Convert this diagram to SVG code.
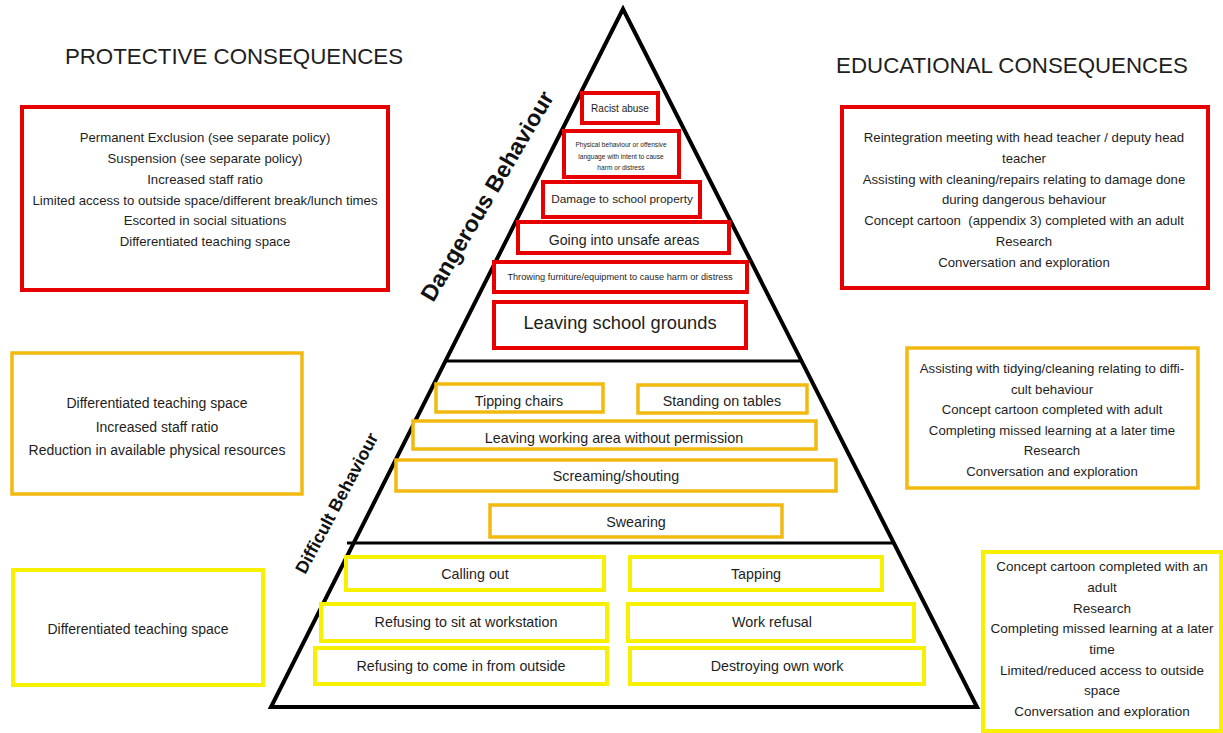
<svg xmlns="http://www.w3.org/2000/svg" width="1223" height="733" viewBox="0 0 1223 733">
  <style>
    text { font-family: "Liberation Sans", Arial, sans-serif; fill: #1e1e1e; text-anchor: middle; dominant-baseline: central; }
    .title { font-size: 22.3px; dominant-baseline: alphabetic; }
    .band { font-size: 23px; font-weight: bold; dominant-baseline: alphabetic; fill: #111; }
    .red { fill: #fff; stroke: #e60000; stroke-width: 4; }
    .gold { fill: #fff; stroke: #f2b90f; stroke-width: 3.5; }
    .yel { fill: #fff; stroke: #f7f000; stroke-width: 4; }
    .side { font-size: 13.2px; }
    .pyr { fill: none; stroke: #000; stroke-width: 4; stroke-linejoin: miter; }
    .div { stroke: #000; stroke-width: 3; }
    .t14 { font-size: 14.3px; }
  </style>

  <!-- headings -->
  <text class="title" x="234" y="64">PROTECTIVE CONSEQUENCES</text>
  <text class="title" x="1012" y="73">EDUCATIONAL CONSEQUENCES</text>

  <!-- pyramid outline and tier dividers -->
  <g id="pyramid">
    <polygon class="pyr" points="623,9 271,707 977,707"/>
    <line class="div" x1="446" y1="361" x2="802" y2="361"/>
    <line class="div" x1="347" y1="543" x2="894" y2="543"/>
  </g>

  <!-- tier labels along the left edge -->
  <text class="band" transform="translate(494 200) rotate(-59.5)">Dangerous Behaviour</text>
  <text class="band" style="font-size:17.6px" transform="translate(342 506) rotate(-62)">Difficult Behaviour</text>

  <!-- dangerous behaviour tier -->
  <g id="racist-abuse">
    <rect class="red" x="582" y="93" width="76" height="30"/>
    <text x="620" y="108" style="font-size:10px">Racist abuse</text>
  </g>
  <g id="physical-behaviour">
    <rect class="red" x="564" y="131" width="115" height="46"/>
    <text x="621" y="144" style="font-size:6.6px">Physical behaviour or offensive</text>
    <text x="621" y="156" style="font-size:6.6px">language with intent to cause</text>
    <text x="621" y="167" style="font-size:6.6px">harm or distress</text>
  </g>
  <g id="damage-property">
    <rect class="red" x="543" y="182" width="157" height="35"/>
    <text x="622" y="199" style="font-size:11.8px">Damage to school property</text>
  </g>
  <g id="unsafe-areas">
    <rect class="red" x="518" y="222" width="211" height="31"/>
    <text x="624" y="240" style="font-size:14.2px">Going into unsafe areas</text>
  </g>
  <g id="throwing-furniture">
    <rect class="red" x="494" y="262" width="253" height="30"/>
    <text x="620" y="277" style="font-size:9.2px">Throwing furniture/equipment to cause harm or distress</text>
  </g>
  <g id="leaving-grounds">
    <rect class="red" x="494" y="302" width="252" height="46"/>
    <text x="620" y="322" style="font-size:18.3px">Leaving school grounds</text>
  </g>

  <!-- difficult behaviour tier -->
  <g id="tipping-chairs">
    <rect class="gold" x="436" y="384" width="167" height="28"/>
    <text class="t14" x="519" y="401">Tipping chairs</text>
  </g>
  <g id="standing-tables">
    <rect class="gold" x="638" y="385" width="169" height="28"/>
    <text class="t14" x="722" y="401">Standing on tables</text>
  </g>
  <g id="leaving-working-area">
    <rect class="gold" x="413" y="421" width="403" height="28"/>
    <text class="t14" x="614" y="438">Leaving working area without permission</text>
  </g>
  <g id="screaming">
    <rect class="gold" x="396" y="460" width="440" height="31"/>
    <text class="t14" x="616" y="476">Screaming/shouting</text>
  </g>
  <g id="swearing">
    <rect class="gold" x="490" y="505" width="292" height="32"/>
    <text class="t14" x="636" y="522">Swearing</text>
  </g>

  <!-- low-level behaviour tier -->
  <g id="calling-out">
    <rect class="yel" x="346" y="557" width="258" height="33"/>
    <text class="t14" x="475" y="574">Calling out</text>
  </g>
  <g id="tapping">
    <rect class="yel" x="630" y="557" width="252" height="33"/>
    <text class="t14" x="756" y="574">Tapping</text>
  </g>
  <g id="refusing-sit">
    <rect class="yel" x="321" y="604" width="286" height="37"/>
    <text class="t14" x="466" y="622">Refusing to sit at workstation</text>
  </g>
  <g id="work-refusal">
    <rect class="yel" x="628" y="604" width="286" height="37"/>
    <text class="t14" x="772" y="622">Work refusal</text>
  </g>
  <g id="refusing-come-in">
    <rect class="yel" x="315" y="648" width="292" height="36"/>
    <text class="t14" x="461" y="666">Refusing to come in from outside</text>
  </g>
  <g id="destroying-work">
    <rect class="yel" x="630" y="648" width="294" height="36"/>
    <text class="t14" x="777" y="666">Destroying own work</text>
  </g>

  <!-- protective consequences -->
  <g id="protective-dangerous" class="side">
    <rect class="red" x="22" y="107" width="366" height="183"/>
    <text x="205" y="137">Permanent Exclusion (see separate policy)</text>
    <text x="205" y="158">Suspension (see separate policy)</text>
    <text x="205" y="179">Increased staff ratio</text>
    <text x="205" y="200">Limited access to outside space/different break/lunch times</text>
    <text x="205" y="220">Escorted in social situations</text>
    <text x="205" y="241">Differentiated teaching space</text>
  </g>
  <g id="protective-difficult" style="font-size:14px">
    <rect class="gold" x="12" y="353" width="290" height="141"/>
    <text x="157" y="403">Differentiated teaching space</text>
    <text x="157" y="427">Increased staff ratio</text>
    <text x="157" y="450">Reduction in available physical resources</text>
  </g>
  <g id="protective-low" style="font-size:14px">
    <rect class="yel" x="13" y="570" width="250" height="115"/>
    <text x="138" y="629">Differentiated teaching space</text>
  </g>

  <!-- educational consequences -->
  <g id="educational-dangerous" class="side">
    <rect class="red" x="842" y="107" width="366" height="181"/>
    <text x="1024" y="137">Reintegration meeting with head teacher / deputy head</text>
    <text x="1024" y="158">teacher</text>
    <text x="1024" y="179">Assisting with cleaning/repairs relating to damage done</text>
    <text x="1024" y="199">during dangerous behaviour</text>
    <text x="1024" y="220">Concept cartoon&#160; (appendix 3) completed with an adult</text>
    <text x="1024" y="241">Research</text>
    <text x="1024" y="262">Conversation and exploration</text>
  </g>
  <g id="educational-difficult" style="font-size:13.2px">
    <rect class="gold" x="907" y="348" width="291" height="140"/>
    <text x="1052" y="368">Assisting with tidying/cleaning relating to diffi-</text>
    <text x="1052" y="389">cult behaviour</text>
    <text x="1052" y="409">Concept cartoon completed with adult</text>
    <text x="1052" y="430">Completing missed learning at a later time</text>
    <text x="1052" y="450">Research</text>
    <text x="1052" y="471">Conversation and exploration</text>
  </g>
  <g id="educational-low" style="font-size:13.5px">
    <rect class="yel" x="983" y="552" width="238" height="179"/>
    <text x="1102" y="566">Concept cartoon completed with an</text>
    <text x="1102" y="587">adult</text>
    <text x="1102" y="608">Research</text>
    <text x="1102" y="628">Completing missed learning at a later</text>
    <text x="1102" y="649">time</text>
    <text x="1102" y="670">Limited/reduced access to outside</text>
    <text x="1102" y="690">space</text>
    <text x="1102" y="711">Conversation and exploration</text>
  </g>
</svg>
